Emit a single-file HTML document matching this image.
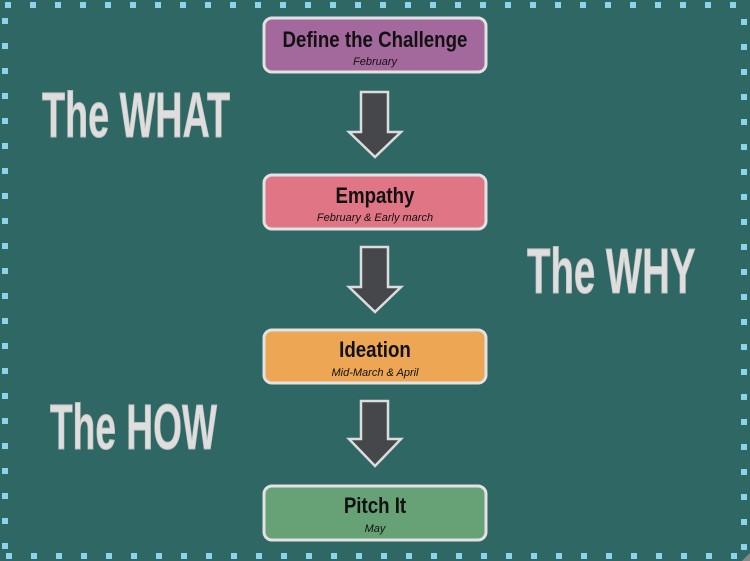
<!DOCTYPE html>
<html><head><meta charset="utf-8"><style>
html,body{margin:0;padding:0;}
body{width:750px;height:561px;overflow:hidden;background:#2e6763;}
</style></head><body>
<svg width="750" height="561" viewBox="0 0 750 561" xmlns="http://www.w3.org/2000/svg" style="display:block">
<rect width="750" height="561" fill="#2e6763"/>
<g fill="#8dd3ea" stroke="#5fa9bb" stroke-width="0.6">
<!-- top row -->
<g id="top">
</g>
</g>
<g fill="#8dd3ea">
<rect x="5" y="2" width="6" height="6"/><rect x="30" y="2" width="6" height="6"/><rect x="55" y="2" width="6" height="6"/><rect x="80" y="2" width="6" height="6"/><rect x="105" y="2" width="6" height="6"/><rect x="130" y="2" width="6" height="6"/><rect x="155" y="2" width="6" height="6"/><rect x="180" y="2" width="6" height="6"/><rect x="205" y="2" width="6" height="6"/><rect x="230" y="2" width="6" height="6"/><rect x="255" y="2" width="6" height="6"/><rect x="280" y="2" width="6" height="6"/><rect x="305" y="2" width="6" height="6"/><rect x="330" y="2" width="6" height="6"/><rect x="355" y="2" width="6" height="6"/><rect x="380" y="2" width="6" height="6"/><rect x="405" y="2" width="6" height="6"/><rect x="430" y="2" width="6" height="6"/><rect x="455" y="2" width="6" height="6"/><rect x="480" y="2" width="6" height="6"/><rect x="505" y="2" width="6" height="6"/><rect x="530" y="2" width="6" height="6"/><rect x="555" y="2" width="6" height="6"/><rect x="580" y="2" width="6" height="6"/><rect x="605" y="2" width="6" height="6"/><rect x="630" y="2" width="6" height="6"/><rect x="655" y="2" width="6" height="6"/><rect x="680" y="2" width="6" height="6"/><rect x="705" y="2" width="6" height="6"/><rect x="730" y="2" width="6" height="6"/>
<rect x="6" y="553" width="6" height="6"/><rect x="31" y="553" width="6" height="6"/><rect x="56" y="553" width="6" height="6"/><rect x="81" y="553" width="6" height="6"/><rect x="106" y="553" width="6" height="6"/><rect x="131" y="553" width="6" height="6"/><rect x="156" y="553" width="6" height="6"/><rect x="181" y="553" width="6" height="6"/><rect x="206" y="553" width="6" height="6"/><rect x="231" y="553" width="6" height="6"/><rect x="256" y="553" width="6" height="6"/><rect x="281" y="553" width="6" height="6"/><rect x="306" y="553" width="6" height="6"/><rect x="331" y="553" width="6" height="6"/><rect x="356" y="553" width="6" height="6"/><rect x="381" y="553" width="6" height="6"/><rect x="406" y="553" width="6" height="6"/><rect x="431" y="553" width="6" height="6"/><rect x="456" y="553" width="6" height="6"/><rect x="481" y="553" width="6" height="6"/><rect x="506" y="553" width="6" height="6"/><rect x="531" y="553" width="6" height="6"/><rect x="556" y="553" width="6" height="6"/><rect x="581" y="553" width="6" height="6"/><rect x="606" y="553" width="6" height="6"/><rect x="631" y="553" width="6" height="6"/><rect x="656" y="553" width="6" height="6"/><rect x="681" y="553" width="6" height="6"/><rect x="706" y="553" width="6" height="6"/><rect x="731" y="553" width="6" height="6"/>
<rect x="2" y="18" width="6" height="6"/><rect x="2" y="43" width="6" height="6"/><rect x="2" y="68" width="6" height="6"/><rect x="2" y="93" width="6" height="6"/><rect x="2" y="118" width="6" height="6"/><rect x="2" y="143" width="6" height="6"/><rect x="2" y="168" width="6" height="6"/><rect x="2" y="193" width="6" height="6"/><rect x="2" y="218" width="6" height="6"/><rect x="2" y="243" width="6" height="6"/><rect x="2" y="268" width="6" height="6"/><rect x="2" y="293" width="6" height="6"/><rect x="2" y="318" width="6" height="6"/><rect x="2" y="343" width="6" height="6"/><rect x="2" y="368" width="6" height="6"/><rect x="2" y="393" width="6" height="6"/><rect x="2" y="418" width="6" height="6"/><rect x="2" y="443" width="6" height="6"/><rect x="2" y="468" width="6" height="6"/><rect x="2" y="493" width="6" height="6"/><rect x="2" y="518" width="6" height="6"/><rect x="2" y="543" width="6" height="6"/>
<rect x="741" y="19" width="6" height="6"/><rect x="741" y="44" width="6" height="6"/><rect x="741" y="69" width="6" height="6"/><rect x="741" y="94" width="6" height="6"/><rect x="741" y="119" width="6" height="6"/><rect x="741" y="144" width="6" height="6"/><rect x="741" y="169" width="6" height="6"/><rect x="741" y="194" width="6" height="6"/><rect x="741" y="219" width="6" height="6"/><rect x="741" y="244" width="6" height="6"/><rect x="741" y="269" width="6" height="6"/><rect x="741" y="294" width="6" height="6"/><rect x="741" y="319" width="6" height="6"/><rect x="741" y="344" width="6" height="6"/><rect x="741" y="369" width="6" height="6"/><rect x="741" y="394" width="6" height="6"/><rect x="741" y="419" width="6" height="6"/><rect x="741" y="444" width="6" height="6"/><rect x="741" y="469" width="6" height="6"/><rect x="741" y="494" width="6" height="6"/><rect x="741" y="519" width="6" height="6"/><rect x="741" y="544" width="6" height="6"/>
</g>
<polygon points="742,561 750,553 750,561" fill="#888"/>

<!-- boxes -->
<g stroke="#e2e2e2" stroke-width="3">
<rect x="264" y="18" width="222" height="54" rx="8" fill="#a3699c"/>
<rect x="264" y="175" width="222" height="54" rx="8" fill="#e07585"/>
<rect x="264" y="330" width="222" height="53" rx="8" fill="#eca654"/>
<rect x="264" y="486" width="222" height="54" rx="8" fill="#67a176"/>
</g>
<!-- arrows -->
<g fill="#46474b" stroke="#dcdcdc" stroke-width="2.5" stroke-linejoin="miter">
<polygon points="361,92 388,92 388,132 401,132 375,157 349,132 361,132"/>
<polygon points="361,247 388,247 388,287 401,287 375,312 349,287 361,287"/>
<polygon points="361,401 388,401 388,439 401,439 375,466 349,439 361,439"/>
</g>
<g font-family="Liberation Sans, sans-serif" text-anchor="middle" fill="#111">
<text x="375" y="47" font-size="22" font-weight="bold" transform="translate(375,0) scale(0.85,1) translate(-375,0)">Define the Challenge</text>
<text x="375" y="65" font-size="11" font-style="italic">February</text>
<text x="375" y="203" font-size="22" font-weight="bold" transform="translate(375,0) scale(0.85,1) translate(-375,0)">Empathy</text>
<text x="375" y="221" font-size="11" font-style="italic">February &amp; Early march</text>
<text x="375" y="357" font-size="22" font-weight="bold" transform="translate(375,0) scale(0.85,1) translate(-375,0)">Ideation</text>
<text x="375" y="376" font-size="11" font-style="italic">Mid-March &amp; April</text>
<text x="375" y="513" font-size="22" font-weight="bold" transform="translate(375,0) scale(0.85,1) translate(-375,0)">Pitch It</text>
<text x="375" y="532" font-size="11" font-style="italic">May</text>
</g>
<g font-family="Liberation Sans, sans-serif" font-weight="bold" font-size="64" fill="#dedede" stroke="#bdbdbd" stroke-width="1">
<text transform="translate(42,137) scale(0.59,1)">The WHAT</text>
<text transform="translate(527,293) scale(0.6,1)">The WHY</text>
<text transform="translate(50,449) scale(0.58,1)">The HOW</text>
</g>
</svg>
</body></html>
